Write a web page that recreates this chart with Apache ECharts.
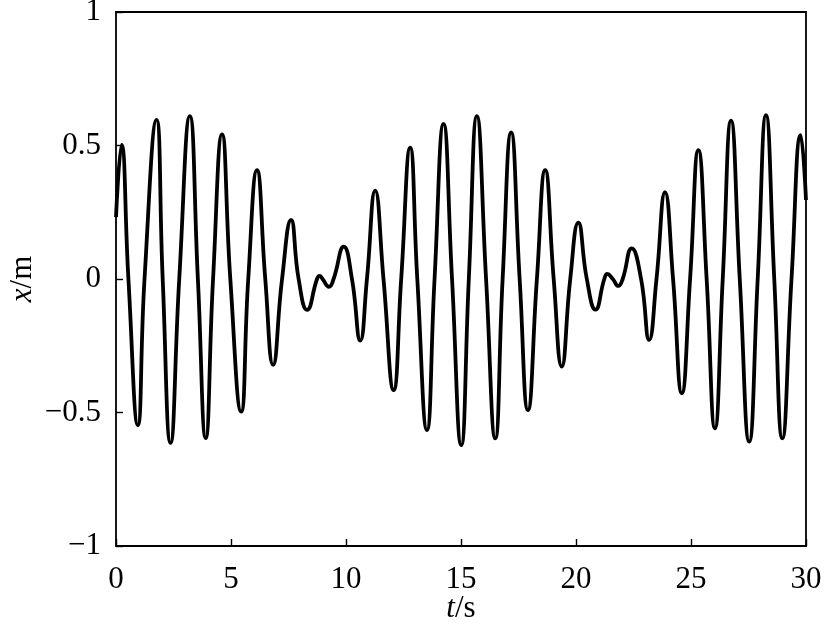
<!DOCTYPE html>
<html>
<head>
<meta charset="utf-8">
<script src="https://cdn.jsdelivr.net/npm/echarts@6/dist/echarts.min.js"></script>
<style>
html,body{margin:0;padding:0;background:#fff;}
#chart{width:824px;height:628px;}
</style>
</head>
<body>
<div id="chart"></div>
<script>
// time (s) of read-off points: extremes and zero crossings
var timeValues = [
  0, 0.24, 0.54, 0.95, 1.24, 1.76, 2.03, 2.37, 2.75, 3.21, 3.56, 3.90, 4.22, 4.61, 4.97,
  5.44, 5.75, 6.13, 6.49, 6.83, 7.22, 7.61, 7.94, 8.31, 8.74, 8.85, 8.98, 9.26, 9.46, 9.90,
  10.26, 10.62, 10.91, 11.27, 11.63, 12.07, 12.40, 12.79, 13.10, 13.52, 13.85, 14.24, 14.61,
  15.01, 15.34, 15.69, 16.09, 16.49, 16.81, 17.18, 17.55, 17.91, 18.30, 18.66, 19.03, 19.38,
  19.75, 20.10, 20.47, 20.85, 21.23, 21.36, 21.60, 21.84, 22.03, 22.42, 22.83, 23.18, 23.50,
  23.87, 24.22, 24.60, 24.96, 25.32, 25.68, 26.04, 26.38, 26.74, 27.12, 27.53, 27.90, 28.26,
  28.62, 28.97, 29.37, 29.77, 30
];
// displacement (m) at those times
var displacementValues = [
  0.232, 0.502, 0, -0.547, 0, 0.596, 0, -0.614, 0, 0.610, 0, -0.596, 0, 0.542, 0,
  -0.497, 0, 0.408, 0, -0.322, 0, 0.221, 0, -0.116, 0, 0.012, 0, -0.029, 0, 0.121,
  0, -0.231, 0, 0.331, 0, -0.416, 0, 0.492, 0, -0.566, 0, 0.581, 0,
  -0.622, 0, 0.610, 0, -0.597, 0, 0.549, 0, -0.491, 0, 0.408, 0, -0.328,
  0, 0.211, 0, -0.115, 0, 0.019, 0, -0.026, 0, 0.115, 0, -0.228, 0,
  0.325, 0, -0.428, 0, 0.483, 0, -0.559, 0, 0.593, 0, -0.609, 0, 0.614,
  0, -0.597, 0, 0.539, 0.296
];
var xTickValues = [0, 5, 10, 15, 20, 25, 30];
var yTickValues = [-1, -0.5, 0, 0.5, 1];

var seriesData = timeValues.map(function (t, i) { return [t, displacementValues[i]]; });
var FONT = '"Liberation Serif", "Times New Roman", serif';

var chart = echarts.init(document.getElementById('chart'), null, {renderer: 'canvas'});
chart.setOption({
  animation: false,
  backgroundColor: '#ffffff',
  grid: {
    left: 116, right: 18, top: 12, bottom: 82,
    containLabel: false, outerBoundsMode: 'none',
    show: true, borderColor: '#000', borderWidth: 1.8, backgroundColor: 'transparent'
  },
  xAxis: {
    type: 'value', min: 0, max: 30, interval: 5,
    axisLine: {show: false, onZero: false},
    axisTick: {show: true, inside: true, length: 7, lineStyle: {color: '#000', width: 1.4}},
    splitLine: {show: false},
    axisLabel: {
      color: '#000', fontFamily: FONT, fontSize: 31, margin: 18,
      formatter: function (v) { return xTickValues.indexOf(v) >= 0 ? String(v) : ''; }
    },
    name: '{i|t}/s',
    nameLocation: 'middle', nameGap: 47, nameMoveOverlap: false,
    nameTextStyle: {
      color: '#000', fontFamily: FONT, fontSize: 31,
      rich: {i: {fontStyle: 'italic', fontFamily: FONT, fontSize: 31, color: '#000'}}
    }
  },
  yAxis: {
    type: 'value', min: -1, max: 1, interval: 0.5,
    axisLine: {show: false, onZero: false},
    axisTick: {show: true, inside: true, length: 7, lineStyle: {color: '#000', width: 1.4}},
    splitLine: {show: false},
    axisLabel: {
      color: '#000', fontFamily: FONT, fontSize: 31, margin: 15,
      formatter: function (v) {
        if (yTickValues.indexOf(v) < 0) return '';
        return String(v).replace('-', '\u2212');
      }
    },
    name: '{i|x}/m',
    nameLocation: 'middle', nameGap: 78, nameRotate: 90, nameMoveOverlap: false,
    nameTextStyle: {
      color: '#000', fontFamily: FONT, fontSize: 31,
      rich: {i: {fontStyle: 'italic', fontFamily: FONT, fontSize: 31, color: '#000'}}
    }
  },
  series: [{
    type: 'line',
    data: seriesData,
    smooth: 0.5,
    showSymbol: false,
    lineStyle: {color: '#000', width: 3.8},
    clip: true
  }]
});
</script>
</body>
</html>
